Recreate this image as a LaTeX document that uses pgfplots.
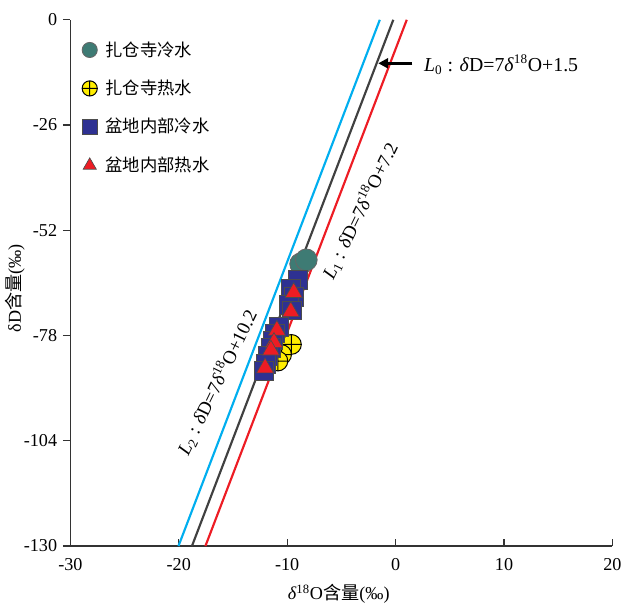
\documentclass[border=0pt]{standalone}
\usepackage{fontspec}
\setmainfont{Liberation Serif}
\newfontfamily\cjk{Noto Sans CJK SC}
\usepackage{pgfplots}
\pgfplotsset{compat=1.18}
\usetikzlibrary{arrows.meta}
\definecolor{cgreen}{HTML}{3E7B74}
\definecolor{cyellow}{HTML}{FFED00}
\definecolor{cblue}{HTML}{2E3192}
\definecolor{cred}{HTML}{ED1C24}
\definecolor{ccyan}{HTML}{00AEEF}
\definecolor{cgray}{HTML}{404040}
\begin{document}
\begin{tikzpicture}
\begin{axis}[
  scale only axis, width=328.8pt, height=319.2pt,
  xmin=-30, xmax=20, ymin=-130, ymax=0,
  axis x line*=bottom, axis y line*=left,
  axis line style={line width=0.8pt, black!80},
  xtick={-30,-20,...,20}, ytick={-130,-104,-78,-52,-26,0},
  xtick align=inside, ytick align=outside,
  major tick length=4.5pt,
  tick style={line width=0.8pt, black!80},
  /pgf/number format/assume math mode=true,
  tick label style={font=\fontsize{11}{13}\selectfont},
  xticklabel style={yshift=-4pt},
  xlabel={\fontsize{11}{13}\selectfont\textit{δ}\textsuperscript{18}O{\cjk 含量}(‰)},
  ylabel={\fontsize{11}{13}\selectfont δD{\cjk 含量}(‰)},
  xlabel style={at={(axis description cs:0.495,0)}, anchor=center, yshift=-29pt},
  ylabel style={at={(axis description cs:-0.102,0.49)}, anchor=center},
  legend style={at={(axis description cs:0.012,0.972)}, anchor=north west, draw=none, fill=none,
    font=\cjk\fontsize{10.5}{12}\selectfont, row sep=9pt, nodes={inner xsep=5pt}},
  legend cell align=left,
  legend image post style={mark size=4.6pt},
]
\addplot[only marks, mark=*, mark size=6.6pt, mark options={fill=cgreen, draw=black!60, line width=0.5pt}]
  coordinates {(-8.76,-60.3) (-8.24,-59.3)};
\addlegendentry{扎仓寺冷水}
\addplot[only marks, mark=oplus*, mark size=6pt, mark options={fill=cyellow, draw=black, line width=0.6pt}]
  coordinates {(-9.61,-80.2) (-10.52,-82.7) (-10.86,-84.3)};
\addlegendentry{扎仓寺热水}
\addplot[only marks, mark=square*, mark size=5.7pt, mark options={fill=cblue, draw=black!70, line width=0.5pt}]
  coordinates {(-9.03,-64.3) (-9.67,-66.5) (-9.40,-68.4) (-9.85,-70.4) (-9.58,-71.8)
   (-10.77,-75.8) (-11.13,-77.5) (-11.31,-79.2) (-11.50,-81.1) (-11.77,-83.1) (-11.95,-85.0) (-12.14,-86.8)};
\addlegendentry{盆地内部冷水}
\addplot[only marks, mark=triangle*, mark size=6pt, mark options={fill=cred, draw=black!70, line width=0.4pt}]
  coordinates {(-9.40,-67.4) (-9.67,-72.1) (-10.95,-76.7) (-11.22,-79.7) (-11.50,-81.6) (-12.04,-86.0)};
\addlegendentry{盆地内部热水}
\addplot[forget plot, color=ccyan, line width=1.3pt] coordinates {(-20.029,-130) (-1.457,0)};
\addplot[forget plot, color=cgray, line width=1.3pt] coordinates {(-18.786,-130) (-0.214,0)};
\addplot[forget plot, color=cred, line width=1.3pt] coordinates {(-17.543,-130) (1.029,0)};
\draw[-{Triangle[length=6pt,width=6pt]}, line width=2pt, black] (axis cs:1.55,-10.75) -- (axis cs:-1.6,-10.75);
\node[anchor=west, font=\fontsize{12}{14}\selectfont] at (axis cs:2.1,-11.1)
  {\textit{L}\textsubscript{0} : \textit{δ}D=7\textit{δ}\textsuperscript{18}O+1.5};
\node[rotate=64, font=\fontsize{11.5}{13}\selectfont] at (axis cs:-3.28,-47.2)
  {\textit{L}\textsubscript{1} : \textit{δ}D=7\textit{δ}\textsuperscript{18}O+7.2};
\node[rotate=64, font=\fontsize{11.5}{13}\selectfont] at (axis cs:-16.47,-89.6)
  {\textit{L}\textsubscript{2} : \textit{δ}D=7\textit{δ}\textsuperscript{18}O+10.2};
\end{axis}
\path ([yshift=12pt]current axis.north west);
\end{tikzpicture}
\end{document}
